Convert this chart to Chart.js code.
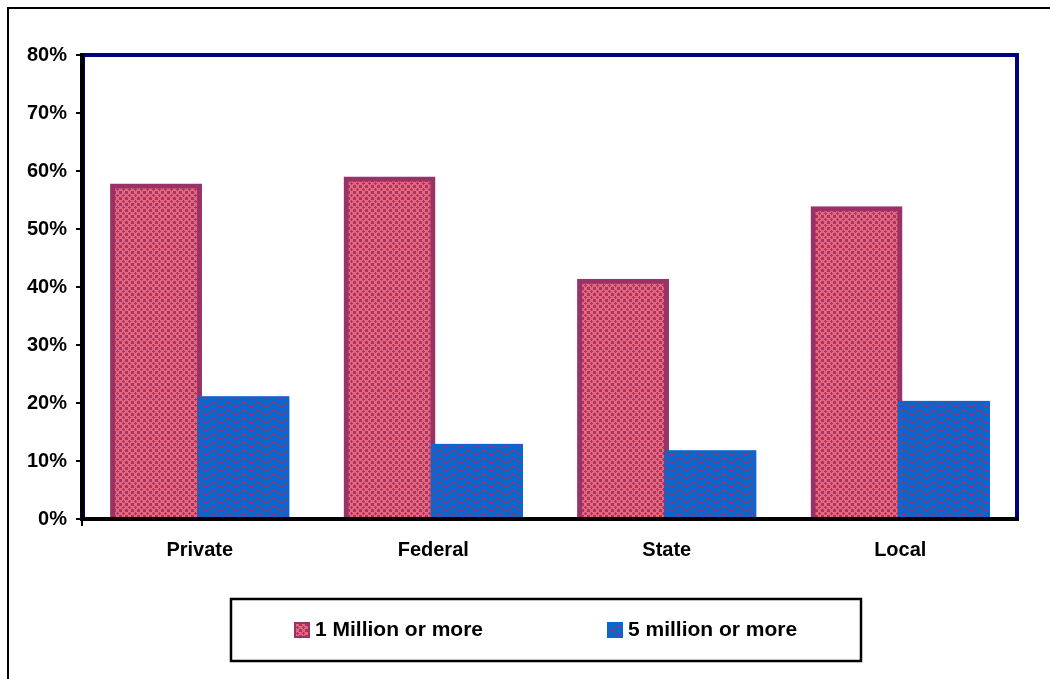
<!DOCTYPE html>
<html>
<head>
<meta charset="utf-8">
<script src="https://cdn.jsdelivr.net/npm/chart.js@4.4.1/dist/chart.umd.min.js"></script>
<style>
html,body{margin:0;padding:0;background:#fff;}
#wrap{width:1050px;height:679px;position:relative;}
</style>
</head>
<body>
<div id="wrap"><canvas id="c" width="1050" height="679"></canvas></div>
<script>
const categories = ['Private', 'Federal', 'State', 'Local'];
const oneMillion = [57.4, 58.6, 41.0, 53.5];
const fiveMillion = [21.0, 12.8, 11.7, 20.2];
const seriesLabels = ['1 Million or more', '5 million or more'];
const yTicks = [0, 10, 20, 30, 40, 50, 60, 70, 80];

function makePinkPattern() {
  const c = document.createElement('canvas');
  c.width = 6; c.height = 6;
  const g = c.getContext('2d');
  g.fillStyle = '#e8657c';
  g.fillRect(0, 0, 6, 6);
  g.fillStyle = '#a23866';
  [[3,3],[2,3],[4,3],[3,2],[3,4],[0,0],[1,0],[0,1],[5,0],[0,5],[1,1],[5,5],[5,1],[1,5]].forEach(p => g.fillRect(p[0], p[1], 1, 1));
  return document.createElement('canvas').getContext('2d').createPattern(c, 'repeat');
}
function makeBluePattern() {
  const c = document.createElement('canvas');
  c.width = 15; c.height = 8;
  const g = c.getContext('2d');
  g.fillStyle = '#0866cc';
  g.fillRect(0, 0, 15, 8);
  g.strokeStyle = '#8e3a76';
  g.lineWidth = 1.2;
  g.beginPath();
  for (let x = -2; x <= 17; x += 0.5) {
    const y = 4.5 - 2.2 * Math.cos(2 * Math.PI * (x - 3.75) / 15);
    if (x === -2) g.moveTo(x, y); else g.lineTo(x, y);
  }
  g.stroke();
  return document.createElement('canvas').getContext('2d').createPattern(c, 'repeat');
}
const pinkFill = makePinkPattern();
const blueFill = makeBluePattern();

const framePlugin = {
  id: 'frame',
  beforeDraw(chart) {
    const ctx = chart.ctx;
    ctx.save();
    ctx.fillStyle = '#fff';
    ctx.fillRect(0, 0, chart.width, chart.height);
    ctx.strokeStyle = '#000';
    ctx.lineWidth = 2;
    ctx.beginPath();
    ctx.moveTo(8, chart.height);
    ctx.lineTo(8, 8);
    ctx.lineTo(chart.width, 8);
    ctx.stroke();
    ctx.restore();
  },
  beforeDatasetsDraw(chart) {
    const a = chart.chartArea, ctx = chart.ctx;
    ctx.save();
    ctx.strokeStyle = '#000080';
    ctx.lineWidth = 4;
    ctx.strokeRect(a.left, a.top, a.right - a.left, a.bottom - a.top);
    ctx.restore();
  },
  afterDatasetsDraw(chart) {
    const a = chart.chartArea, ctx = chart.ctx;
    // second series drawn on top of the first (overlapping bars)
    ctx.save();
    chart.getDatasetMeta(1).data.forEach(el => el.draw(ctx));
    ctx.restore();
    ctx.save();
    ctx.strokeStyle = '#000';
    ctx.lineWidth = 4;
    ctx.beginPath();
    ctx.moveTo(a.left - 1, a.top - 2);
    ctx.lineTo(a.left - 1, a.bottom);
    ctx.lineTo(a.right + 2, a.bottom);
    ctx.stroke();
    ctx.lineWidth = 2;
    ctx.beginPath();
    ctx.moveTo(a.left - 1, a.bottom);
    ctx.lineTo(a.left - 1, a.bottom + 7);
    ctx.stroke();
    ctx.restore();
  },
  afterDraw(chart) {
    const a = chart.chartArea, ctx = chart.ctx;
    const cx = (a.left + a.right) / 2;
    const left = cx - 319, top = 599, w = 630, h = 62;
    ctx.save();
    ctx.strokeStyle = '#000';
    ctx.lineWidth = 2.5;
    ctx.strokeRect(left, top, w, h);
    ctx.font = 'bold 21px "Liberation Sans", Arial, sans-serif';
    ctx.textBaseline = 'middle';
    ctx.textAlign = 'left';
    const offs = [63, 376];
    chart.data.datasets.forEach((ds, i) => {
      const x = left + offs[i], y = top + h / 2;
      ctx.fillStyle = ds.borderColor;
      ctx.fillRect(x, y - 8, 16, 16);
      ctx.fillStyle = ds.backgroundColor;
      ctx.fillRect(x + 2, y - 6, 12, 12);
      ctx.fillStyle = '#000';
      ctx.fillText(ds.label, x + 21, y);
    });
    ctx.restore();
  }
};

new Chart(document.getElementById('c'), {
  type: 'bar',
  data: {
    labels: categories,
    datasets: [
      {
        label: seriesLabels[0],
        data: oneMillion,
        backgroundColor: pinkFill,
        borderColor: '#993366',
        borderWidth: 5,
        inflateAmount: 2.5,
        borderSkipped: 'start',
        categoryPercentage: 0.749,
        barPercentage: 0.994
      },
      {
        label: seriesLabels[1],
        data: fiveMillion,
        backgroundColor: blueFill,
        borderColor: '#0a66d0',
        borderWidth: 2,
        inflateAmount: 1,
        borderSkipped: 'start',
        categoryPercentage: 0.749,
        barPercentage: 1.029
      }
    ]
  },
  options: {
    responsive: false,
    animation: false,
    devicePixelRatio: 1,
    layout: { padding: { left: 0, top: 55, right: 33, bottom: 0 } },
    plugins: { legend: { display: false }, tooltip: { enabled: false } },
    scales: {
      x: {
        grid: { display: false },
        border: { display: false },
        ticks: {
          color: '#000',
          padding: 11,
          font: { family: '"Liberation Sans", Arial, sans-serif', size: 20, weight: 'bold' }
        },
        afterFit(scale) { scale.height = 160; }
      },
      y: {
        min: 0,
        max: 80,
        afterBuildTicks(scale) { scale.ticks = yTicks.map(v => ({ value: v })); },
        grid: { drawOnChartArea: false, color: '#000', lineWidth: 2, tickLength: 7 },
        border: { display: false },
        ticks: {
          color: '#000',
          padding: 9,
          font: { family: '"Liberation Sans", Arial, sans-serif', size: 20, weight: 'bold' },
          callback: v => v + '%'
        },
        afterFit(scale) { scale.width = 83; }
      }
    }
  },
  plugins: [framePlugin]
});
</script>
</body>
</html>
